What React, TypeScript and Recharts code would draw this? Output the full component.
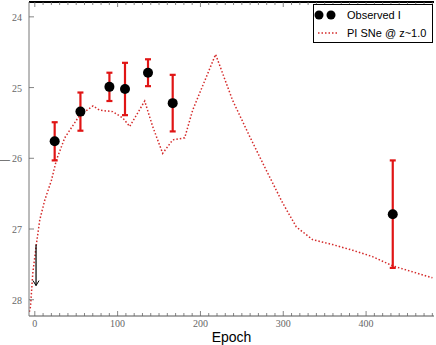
import React from 'react';
import { ComposedChart, Line, Scatter, ErrorBar, XAxis, YAxis } from 'recharts';

const modelEpoch = [-6.6, -5.2, -2.4, 2.1, 6.0, 12.1, 20.1, 26.2, 36.2, 54.3, 70.3, 78.4, 94.1, 106.2, 114.6, 132.7, 142.3, 154.4, 166.5, 181, 190.6, 218.3, 238.8, 259.4, 279.5, 299.2, 315.7, 335.4, 359.5, 383.6, 407.7, 431.9, 480.1];
const modelMag = [28.17, 28.10, 27.62, 27.20, 26.87, 26.59, 26.31, 26.02, 25.71, 25.39, 25.26, 25.32, 25.34, 25.43, 25.55, 25.19, 25.55, 25.93, 25.74, 25.71, 25.32, 24.53, 25.18, 25.69, 26.17, 26.63, 26.97, 27.15, 27.22, 27.30, 27.39, 27.52, 27.69];

const obsEpoch = [24, 55.1, 90.1, 108.9, 136.7, 166.5, 432.2];
const obsMag = [25.76, 25.34, 24.99, 25.02, 24.79, 25.22, 26.79];
const obsErr = [0.27, 0.27, 0.2, 0.37, 0.19, 0.4, 0.76];

const limitEpoch = [1.5, 1.5];
const limitMag = [27.22, 27.8];

const xMajor = [0, 100, 200, 300, 400];
const xTicks = Array.from({ length: 49 }, (_, i) => i * 10);
const yTicks = [24, 25, 26, 27, 28];

const legendLabels = ['Observed I', 'PI SNe @ z~1.0'];

const modelData = modelEpoch.map((x, i) => ({ x, y: modelMag[i] }));
const obsData = obsEpoch.map((x, i) => ({ x, y: obsMag[i], err: obsErr[i] }));
const limitData = limitEpoch.map((x, i) => ({ x, y: limitMag[i], tip: i === 1 }));

const TICK = '#666';
const labelFont = '"Liberation Serif", "DejaVu Serif", serif';

const BottomTick = (p: any) => {
  const v = p.payload.value;
  const major = xMajor.includes(v);
  return (
    <g>
      <line x1={p.x} y1={p.y} x2={p.x} y2={p.y - (major ? 5 : 3)} stroke={TICK} strokeWidth={0.8} />
      {major && (
        <text x={p.x} y={p.y + 11} textAnchor="middle" fontSize={10} fill="#666" fontFamily={labelFont}>{v}</text>
      )}
    </g>
  );
};
const TopTick = (p: any) => {
  const v = p.payload.value;
  const major = xMajor.includes(v);
  return <line x1={p.x} y1={p.y} x2={p.x} y2={p.y + (major ? 5 : 3)} stroke={TICK} strokeWidth={0.8} />;
};
const LeftTick = (p: any) => (
  <g>
    <line x1={p.x} y1={p.y} x2={p.x + 5} y2={p.y} stroke={TICK} strokeWidth={0.8} />
    <text x={p.x - 7} y={p.y + 4} textAnchor="end" fontSize={10} fill="#666" fontFamily={labelFont}>{p.payload.value}</text>
  </g>
);
const RightTick = (p: any) => (
  <line x1={p.x} y1={p.y} x2={p.x - 5} y2={p.y} stroke={TICK} strokeWidth={0.8} />
);

const ObsDot = (p: any) => <circle cx={p.cx} cy={p.cy} r={5} fill="#000" />;
const ArrowHead = (p: any) =>
  p.payload && p.payload.tip ? (
    <path d={`M${p.cx - 3},${p.cy - 5} L${p.cx},${p.cy} L${p.cx + 3},${p.cy - 5}`} fill="none" stroke="#000" strokeWidth={1} />
  ) : <g />;

const LegendBox = () => (
  <div style={{ position: 'absolute', left: 313, top: 4, border: '1px solid #000', background: '#fff', width: 120, height: 39, boxSizing: 'border-box', fontFamily: '"Liberation Sans", Arial, sans-serif', fontSize: 11, color: '#000' }}>
    <svg width={118} height={37} style={{ display: 'block' }}>
      <circle cx={5} cy={10} r={4.5} fill="#000" />
      <circle cx={17} cy={10} r={4.5} fill="#000" />
      <text x={33} y={14}>{legendLabels[0]}</text>
      <line x1={4} y1={28} x2={24} y2={28} stroke="#d42a2a" strokeWidth={1.5} strokeDasharray="1.5 2" />
      <text x={33} y={32}>{legendLabels[1]}</text>
    </svg>
  </div>
);

export default function App() {
  return (
    <div style={{ position: 'absolute', left: 0, top: 0, width: 436, height: 345, background: '#fff' }}>
      <ComposedChart width={436} height={345} margin={{ top: 1, right: 2, bottom: 0, left: 0 }}>
        <XAxis xAxisId="b" dataKey="x" type="number" domain={[-7, 482]} ticks={xTicks} interval={0}
          allowDataOverflow tickSize={0} tickMargin={0} height={29} tick={<BottomTick />} tickLine={false}
          axisLine={{ stroke: '#555', strokeWidth: 1 }}
          label={{ value: 'Epoch', position: 'insideBottom', offset: 3, fill: '#000', fontSize: 14, fontFamily: '"Liberation Sans", Arial, sans-serif' }} />
        <XAxis xAxisId="t" orientation="top" dataKey="x" type="number" domain={[-7, 482]} ticks={xTicks} interval={0}
          allowDataOverflow tickSize={0} tickMargin={0} height={1} tick={<TopTick />} tickLine={false}
          axisLine={{ stroke: '#000', strokeWidth: 2 }} />
        <YAxis yAxisId="l" type="number" reversed domain={[23.79, 28.23]} ticks={yTicks} interval={0}
          allowDataOverflow tickSize={0} tickMargin={0} width={29} tick={<LeftTick />} tickLine={false}
          axisLine={{ stroke: '#777', strokeWidth: 1 }}
          label={{ value: '—', position: 'insideLeft', offset: -1, fill: '#000', fontSize: 11 }} />
        <YAxis yAxisId="r" orientation="right" type="number" reversed domain={[23.79, 28.23]} ticks={yTicks} interval={0}
          allowDataOverflow tickSize={0} tickMargin={0} width={0} tick={<RightTick />} tickLine={false}
          axisLine={{ stroke: '#000', strokeWidth: 2 }} />
        <Line xAxisId="b" yAxisId="l" data={modelData} dataKey="y" type="linear" stroke="#d42a2a"
          strokeWidth={1.5} strokeDasharray="1.5 2" dot={false} isAnimationActive={false} />
        <Scatter xAxisId="b" yAxisId="l" data={limitData} dataKey="y" line={{ stroke: '#000', strokeWidth: 1.2 }}
          shape={<ArrowHead />} isAnimationActive={false} legendType="none" />
        <Scatter xAxisId="b" yAxisId="l" data={obsData} dataKey="y" shape={<ObsDot />} isAnimationActive={false}>
          <ErrorBar dataKey="err" direction="y" width={3} stroke="#e01515" strokeWidth={2.2} isAnimationActive={false} />
        </Scatter>
      </ComposedChart>
      <LegendBox />
    </div>
  );
}
